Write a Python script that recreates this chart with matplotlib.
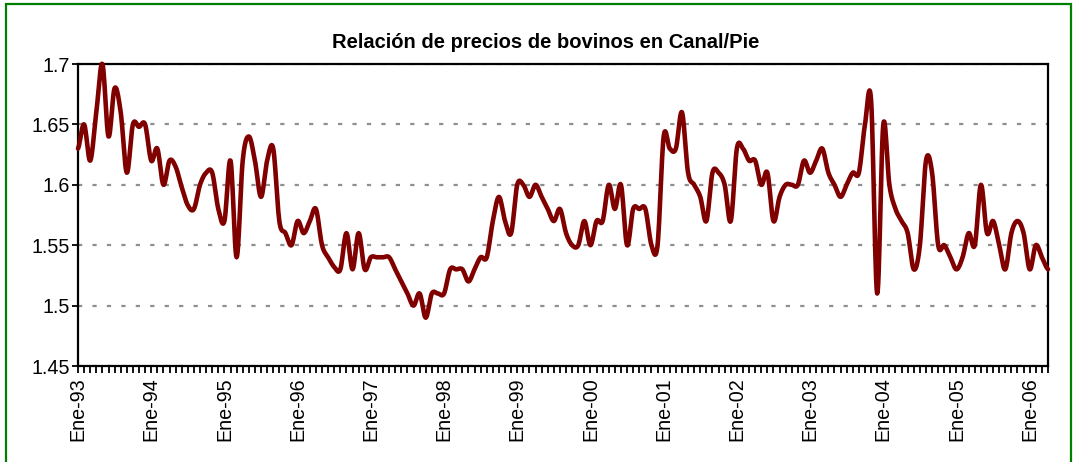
# -*- coding: utf-8 -*-
"""
Relación de precios de bovinos en Canal/Pie, serie mensual Ene-93 a Abr-06
"""

import numpy as np
import matplotlib.pyplot as plt
from matplotlib.patches import Rectangle



# ================================== DATA =================================== #
TITLE = 'Relación de precios de bovinos en Canal/Pie'

# canal/pie ratio, one value per month starting Jan 1993
RATIO_93 = [1.63, 1.65, 1.62, 1.66, 1.70, 1.64, 1.68, 1.66, 1.61, 1.65, 1.648, 1.65]
RATIO_94 = [1.62, 1.63, 1.60, 1.62, 1.615, 1.598, 1.583, 1.58, 1.60, 1.61, 1.61, 1.58]
RATIO_95 = [1.57, 1.62, 1.54, 1.62, 1.64, 1.62, 1.59, 1.62, 1.63, 1.57, 1.56, 1.55]
RATIO_96 = [1.57, 1.56, 1.57, 1.58, 1.55, 1.54, 1.532, 1.53, 1.56, 1.53, 1.56, 1.53]
RATIO_97 = [1.54, 1.54, 1.54, 1.54, 1.53, 1.52, 1.51, 1.50, 1.51, 1.49, 1.51, 1.51]
RATIO_98 = [1.51, 1.53, 1.53, 1.53, 1.52, 1.53, 1.54, 1.54, 1.57, 1.59, 1.57, 1.56]
RATIO_99 = [1.60, 1.60, 1.59, 1.60, 1.59, 1.58, 1.57, 1.58, 1.56, 1.55, 1.55, 1.57]
RATIO_00 = [1.55, 1.57, 1.57, 1.60, 1.58, 1.60, 1.55, 1.58, 1.58, 1.58, 1.55, 1.55]
RATIO_01 = [1.64, 1.63, 1.63, 1.66, 1.61, 1.60, 1.59, 1.57, 1.61, 1.61, 1.60, 1.57]
RATIO_02 = [1.63, 1.63, 1.62, 1.62, 1.60, 1.61, 1.57, 1.59, 1.60, 1.60, 1.60, 1.62]
RATIO_03 = [1.61, 1.62, 1.63, 1.61, 1.60, 1.59, 1.60, 1.61, 1.61, 1.65, 1.67, 1.51]
RATIO_04 = [1.65, 1.60, 1.58, 1.57, 1.56, 1.53, 1.55, 1.62, 1.61, 1.55, 1.55, 1.54]
RATIO_05 = [1.53, 1.54, 1.56, 1.55, 1.60, 1.56, 1.57, 1.55, 1.53, 1.56, 1.57, 1.56]
RATIO_06 = [1.53, 1.55, 1.54, 1.53]

TICK_LABELS = ['Ene-93', 'Ene-94', 'Ene-95', 'Ene-96', 'Ene-97', 'Ene-98',
               'Ene-99', 'Ene-00', 'Ene-01', 'Ene-02', 'Ene-03', 'Ene-04',
               'Ene-05', 'Ene-06']

Y_TICKS = [1.45, 1.5, 1.55, 1.6, 1.65, 1.7]
# =========================================================================== #



# =============================== FUNCTIONS ================================= #
def smooth_line(y, n=12):
    ''' Catmull-Rom pass through every point, same look as a smoothed
        spreadsheet line. Returns (x, y) in month units.
    '''
    y  = np.asarray(y, dtype=float)
    yp = np.concatenate(([y[0]], y, [y[-1]]))
    t  = np.linspace(0, 1, n, endpoint=False)
    xs, ys = [], []
    for i in range(len(y) - 1):
        p0, p1, p2, p3 = yp[i], yp[i+1], yp[i+2], yp[i+3]
        seg = 0.5 * ((2*p1) + (-p0 + p2)*t +
                     (2*p0 - 5*p1 + 4*p2 - p3)*t**2 +
                     (-p0 + 3*p1 - 3*p2 + p3)*t**3)
        xs.append(i + t)
        ys.append(seg)
    xs.append([len(y) - 1])
    ys.append([y[-1]])
    return np.concatenate(xs), np.concatenate(ys)
#   end smooth_line
# =========================================================================== #



# ================================== MAIN =================================== #
def main():
    plt.rcParams['font.family'] = ['Liberation Sans', 'DejaVu Sans']

    ratio = (RATIO_93 + RATIO_94 + RATIO_95 + RATIO_96 + RATIO_97 + RATIO_98 +
             RATIO_99 + RATIO_00 + RATIO_01 + RATIO_02 + RATIO_03 + RATIO_04 +
             RATIO_05 + RATIO_06)
    months = len(ratio)

    W, H = 1076, 462
    fig = plt.figure(figsize=(W/100, H/100), dpi=100)
    ax  = fig.add_axes([78/W, 1 - 366/H, (1048 - 78)/W, (366 - 64)/H])

    # smoothed series line
    xs, ys = smooth_line(ratio)
    ax.plot(xs, ys, color='#800000', lw=3.3, solid_capstyle='round',
            solid_joinstyle='round', clip_on=False, zorder=3)

    ax.set_xlim(0, months - 1)
    ax.set_ylim(Y_TICKS[0], Y_TICKS[-1])

    # dashed horizontal grid
    ax.set_axisbelow(True)
    ax.yaxis.grid(True, color='#8f8f8f', lw=1.6, linestyle=(0, (1.9, 4.6)))
    ax.xaxis.grid(False)

    for s in ax.spines.values():
        s.set_color('black')
        s.set_linewidth(1.6)

    ax.set_yticks(Y_TICKS)
    ax.set_yticklabels(['1.45', '1.5', '1.55', '1.6', '1.65', '1.7'])
    ax.set_xticks(np.arange(0, months, 12))
    ax.set_xticklabels(TICK_LABELS, rotation=90, ha='center', va='top')
    ax.set_xticks(np.arange(0, months), minor=True)

    ax.tick_params(axis='y', direction='out', length=4, width=1.3,
                   labelsize=14.2, pad=2)
    ax.tick_params(axis='x', which='both', direction='out', length=5,
                   width=1.3, labelsize=14.2, pad=3)

    fig.text(546/W, 1 - 42/H, TITLE, ha='center', va='center',
             fontsize=14.5, fontweight='bold')

    # green frame round the chart
    fig.patches.append(Rectangle((6/W, -0.1), (1071 - 6)/W, 1.1 - 4/H,
                                 transform=fig.transFigure, fill=False,
                                 edgecolor='#008000', lw=1.6))

    fig.savefig('out.png', dpi=100)
#   end main


if __name__ == "__main__":
    main()
# =========================================================================== #
